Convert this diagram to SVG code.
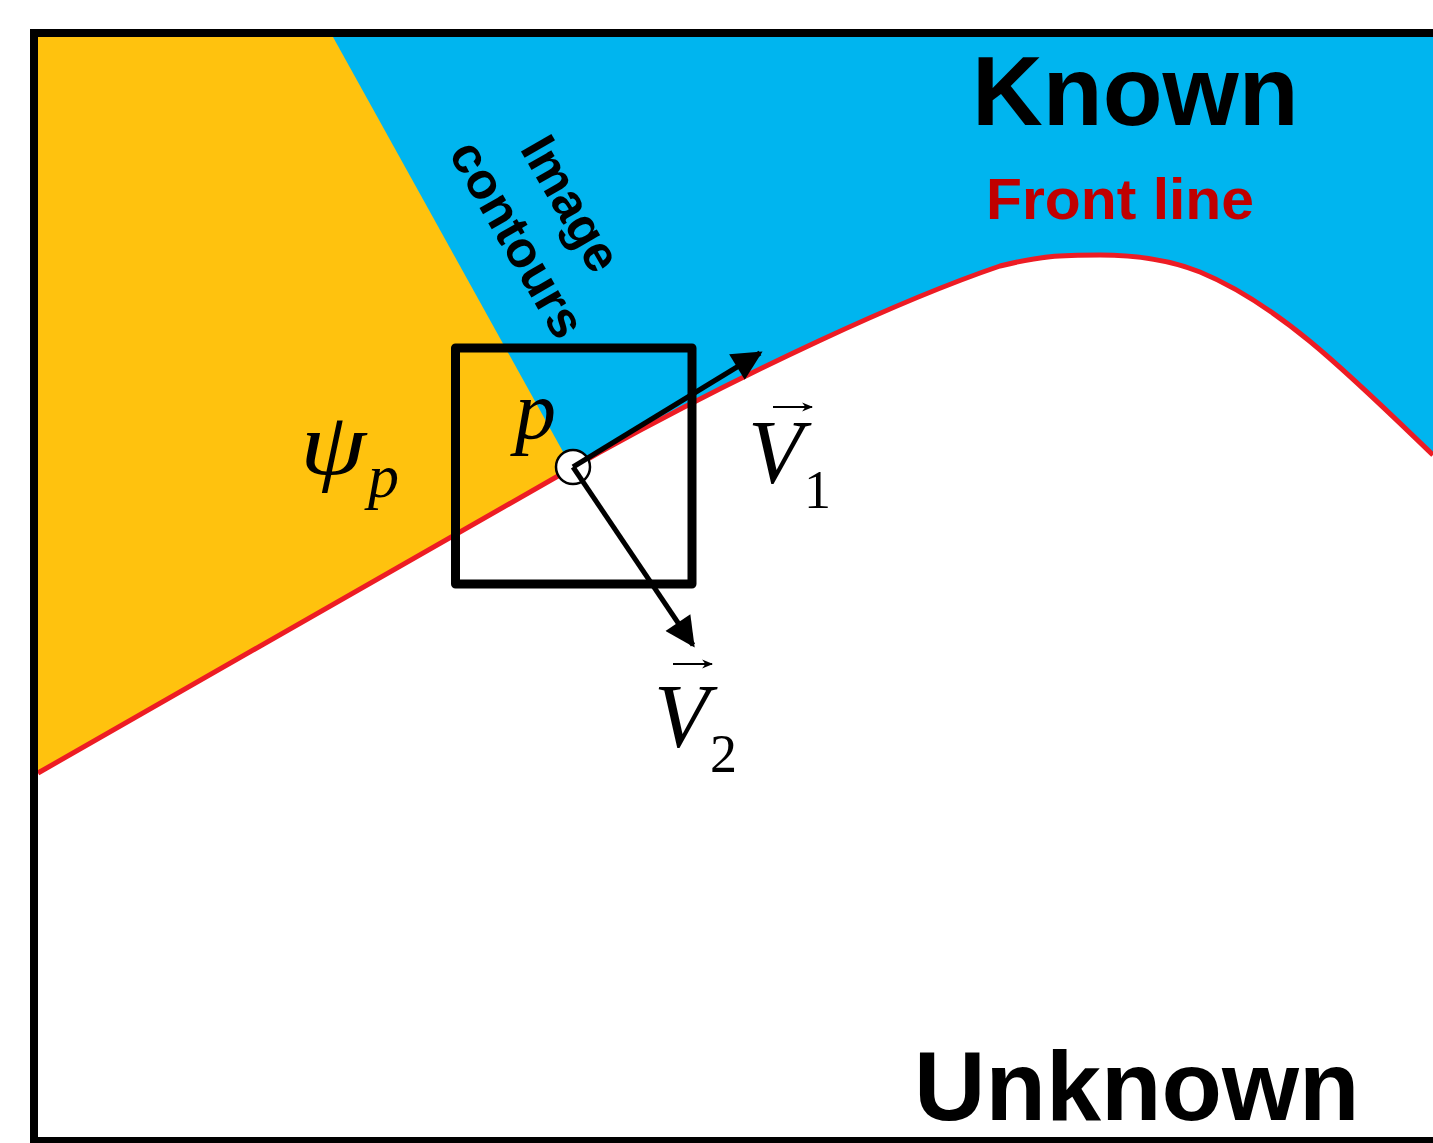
<svg xmlns="http://www.w3.org/2000/svg" width="1433" height="1143" viewBox="0 0 1433 1143">
<defs>
<style>
.lbl{font-family:"Liberation Sans",Arial,sans-serif;font-weight:bold}
.math{font-family:"Liberation Serif","Times New Roman",serif;font-style:italic;fill:#000}
.sub{font-family:"Liberation Serif","Times New Roman",serif;fill:#000}
.vec{stroke:#000;stroke-width:5;fill:none}
.tiny{stroke:#000;stroke-width:2.2;fill:none}
</style>
<marker id="head" viewBox="0 0 10 10" refX="9" refY="5" markerWidth="8" markerHeight="6" markerUnits="strokeWidth" orient="auto">
<path d="M0,0 L10,5 L0,10 Z" fill="#000"/>
</marker>
<marker id="thead" viewBox="0 0 10 10" refX="9" refY="5" markerWidth="5" markerHeight="5" markerUnits="strokeWidth" orient="auto">
<path d="M0,1 L10,5 L0,9 L3,5 Z" fill="#000"/>
</marker>
</defs>
<rect x="0" y="0" width="1433" height="1143" fill="#fff"/>
<g id="known-region">
<path d="M38,773 L600,452 C750,370 900,300 1000,266 C1040,256 1060,255 1100,255 C1140,255 1170,260 1200,272 C1280,305 1350,375 1433,455 L1433,37 L38,37 Z" fill="#00B5EF"/>
</g>
<g id="patch-region">
<path d="M38,37 L333,37 L572,468 L38,773 Z" fill="#FFC20E"/>
</g>
<g id="front-line">
<path d="M38,773 L600,452 C750,370 900,300 1000,266 C1040,256 1060,255 1100,255 C1140,255 1170,260 1200,272 C1280,305 1350,375 1433,455" fill="none" stroke="#ED1C24" stroke-width="5"/>
</g>
<g id="frame">
<rect x="34" y="33" width="1420" height="1108" fill="none" stroke="#000" stroke-width="8"/>
</g>
<g id="patch-square">
<rect x="455.5" y="348" width="236.5" height="236" fill="none" stroke="#000" stroke-width="9" stroke-linejoin="round"/>
</g>
<g id="point-p">
<circle cx="573" cy="467" r="17" fill="#fff" stroke="#000" stroke-width="2.5"/>
</g>
<g id="connectors">
<line class="vec" x1="573" y1="467" x2="760" y2="353" marker-end="url(#head)"/>
<line class="vec" x1="573" y1="467" x2="693" y2="645" marker-end="url(#head)"/>
</g>
<g id="labels">
<text class="lbl" x="972" y="125" font-size="98" fill="#000">Known</text>
<text class="lbl" x="986" y="219" font-size="57" fill="#C00000" textLength="268" lengthAdjust="spacingAndGlyphs">Front line</text>
<text class="lbl" x="914" y="1120" font-size="99" fill="#000">Unknown</text>
<g transform="translate(520,150) rotate(60)">
<text class="lbl" x="72" y="0" font-size="51" text-anchor="middle" fill="#000">Image</text>
<text class="lbl" x="76" y="64" font-size="51" text-anchor="middle" fill="#000">contours</text>
</g>
<text class="math" x="300" y="474" font-size="88" textLength="66" lengthAdjust="spacingAndGlyphs">ψ</text>
<text class="math" x="368" y="497" font-size="62">p</text>
<text class="math" x="515" y="438" font-size="82">p</text>
<text class="math" x="748" y="483" font-size="90">V</text>
<text class="sub" x="804" y="508" font-size="54">1</text>
<line class="tiny" x1="773" y1="407" x2="812" y2="407" marker-end="url(#thead)"/>
<text class="math" x="654" y="747" font-size="90">V</text>
<text class="sub" x="710" y="772" font-size="54">2</text>
<line class="tiny" x1="673" y1="664" x2="712" y2="664" marker-end="url(#thead)"/>
</g>
</svg>
